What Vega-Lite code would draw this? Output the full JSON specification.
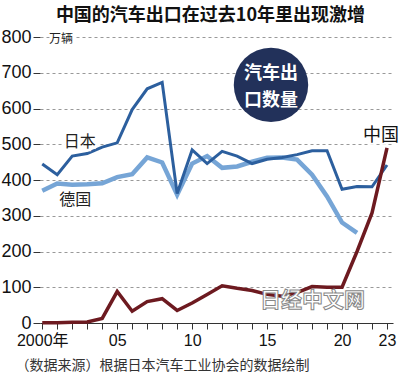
{
  "$schema": "https://vega.github.io/schema/vega-lite/v6.json",
  "width": 353,
  "height": 286,
  "autosize": "none",
  "padding": {"left": 40, "top": 37, "right": 7, "bottom": 52},
  "background": "white",
  "title": {"text": "中国的汽车出口在过去10年里出现激增", "font": "Noto Sans CJK SC", "fontSize": 18, "fontWeight": "bold", "color": "#111", "anchor": "middle", "offset": 3, "dx": -6},
  "config": {"view": {"stroke": null}},
  "datasets": {
    "exports": [
      {"year": 2000, "country": "日本", "value": 445}, {"year": 2001, "country": "日本", "value": 415}, {"year": 2002, "country": "日本", "value": 467}, {"year": 2003, "country": "日本", "value": 474}, {"year": 2004, "country": "日本", "value": 492}, {"year": 2005, "country": "日本", "value": 504}, {"year": 2006, "country": "日本", "value": 597}, {"year": 2007, "country": "日本", "value": 655}, {"year": 2008, "country": "日本", "value": 673}, {"year": 2009, "country": "日本", "value": 362}, {"year": 2010, "country": "日本", "value": 484}, {"year": 2011, "country": "日本", "value": 446}, {"year": 2012, "country": "日本", "value": 480}, {"year": 2013, "country": "日本", "value": 467}, {"year": 2014, "country": "日本", "value": 446}, {"year": 2015, "country": "日本", "value": 458}, {"year": 2016, "country": "日本", "value": 463}, {"year": 2017, "country": "日本", "value": 471}, {"year": 2018, "country": "日本", "value": 482}, {"year": 2019, "country": "日本", "value": 482}, {"year": 2020, "country": "日本", "value": 374}, {"year": 2021, "country": "日本", "value": 382}, {"year": 2022, "country": "日本", "value": 381}, {"year": 2023, "country": "日本", "value": 442},
      {"year": 2000, "country": "德国", "value": 370}, {"year": 2001, "country": "德国", "value": 390}, {"year": 2002, "country": "德国", "value": 387}, {"year": 2003, "country": "德国", "value": 388}, {"year": 2004, "country": "德国", "value": 391}, {"year": 2005, "country": "德国", "value": 408}, {"year": 2006, "country": "德国", "value": 416}, {"year": 2007, "country": "德国", "value": 463}, {"year": 2008, "country": "德国", "value": 449}, {"year": 2009, "country": "德国", "value": 359}, {"year": 2010, "country": "德国", "value": 446}, {"year": 2011, "country": "德国", "value": 467}, {"year": 2012, "country": "德国", "value": 434}, {"year": 2013, "country": "德国", "value": 438}, {"year": 2014, "country": "德国", "value": 451}, {"year": 2015, "country": "德国", "value": 462}, {"year": 2016, "country": "德国", "value": 463}, {"year": 2017, "country": "德国", "value": 457}, {"year": 2018, "country": "德国", "value": 415}, {"year": 2019, "country": "德国", "value": 354}, {"year": 2020, "country": "德国", "value": 281}, {"year": 2021, "country": "德国", "value": 252},
      {"year": 2000, "country": "中国", "value": 1}, {"year": 2001, "country": "中国", "value": 1}, {"year": 2002, "country": "中国", "value": 2}, {"year": 2003, "country": "中国", "value": 3}, {"year": 2004, "country": "中国", "value": 13}, {"year": 2005, "country": "中国", "value": 88}, {"year": 2006, "country": "中国", "value": 33}, {"year": 2007, "country": "中国", "value": 60}, {"year": 2008, "country": "中国", "value": 68}, {"year": 2009, "country": "中国", "value": 35}, {"year": 2010, "country": "中国", "value": 56}, {"year": 2011, "country": "中国", "value": 80}, {"year": 2012, "country": "中国", "value": 104}, {"year": 2013, "country": "中国", "value": 97}, {"year": 2014, "country": "中国", "value": 91}, {"year": 2015, "country": "中国", "value": 80}, {"year": 2016, "country": "中国", "value": 75}, {"year": 2017, "country": "中国", "value": 85}, {"year": 2018, "country": "中国", "value": 102}, {"year": 2019, "country": "中国", "value": 100}, {"year": 2020, "country": "中国", "value": 100}, {"year": 2021, "country": "中国", "value": 200}, {"year": 2022, "country": "中国", "value": 308}, {"year": 2023, "country": "中国", "value": 490}
    ],
    "seriesLabels": [
      {"label": "日本", "year": 2002.5, "value": 507},
      {"label": "德国", "year": 2002.2, "value": 345},
      {"label": "万辆", "year": 2001.25, "value": 795}
    ],
    "chinaLabel": [{"label": "中国", "year": 2022.6, "value": 522}],
    "badge": [{"year": 2015.26, "value": 666}],
    "badgeText": [{"label": "汽车出", "year": 2015.26, "value": 697}, {"label": "口数量", "year": 2015.26, "value": 622}],
    "watermark": [{"label": "日经中文网", "year": 2018.03, "value": 62}]
  },
  "encoding": {
    "x": {"field": "year", "type": "quantitative", "scale": {"domain": [1999.85, 2023.4], "nice": false, "zero": false},
      "axis": {"values": [2000, 2001, 2002, 2003, 2004, 2005, 2006, 2007, 2008, 2009, 2010, 2011, 2012, 2013, 2014, 2015, 2016, 2017, 2018, 2019, 2020, 2021, 2022, 2023],
        "labelExpr": "datum.value == 2000 ? '2000年' : (datum.value == 2005 ? '05' : (datum.value == 2010 ? '10' : (datum.value == 2015 ? '15' : (datum.value == 2020 ? '20' : (datum.value == 2023 ? '23' : '')))))",
        "labelOverlap": false, "labelFont": "Liberation Sans, Noto Sans CJK SC", "labelFontSize": 16, "labelColor": "#111", "labelPadding": 3,
        "tickSize": 6, "tickColor": "#333", "domainColor": "#333", "domainWidth": 1.2, "grid": false,
        "title": "（数据来源）根据日本汽车工业协会的数据绘制", "titleFont": "Noto Sans CJK SC", "titleFontSize": 14, "titleFontWeight": "normal", "titleColor": "#333",
        "titleAnchor": "start", "titleAlign": "left", "titleX": -25, "titleY": 46, "titleBaseline": "alphabetic"}},
    "y": {"field": "value", "type": "quantitative", "scale": {"domain": [0, 800], "nice": false},
      "axis": {"values": [0, 100, 200, 300, 400, 500, 600, 700, 800], "title": null, "domain": false, "tickSize": 7, "tickColor": "#333",
        "labelFont": "Liberation Sans", "labelFontSize": 18, "labelColor": "#111", "labelPadding": 2,
        "grid": true, "gridDash": [3, 3], "gridColor": "#999", "gridWidth": 1}}
  },
  "layer": [
    {
      "data": {"name": "exports"},
      "transform": [{"filter": "datum.country == '德国'"}],
      "mark": {"type": "line", "color": "#76a5d6", "strokeWidth": 4.5}
    },
    {
      "data": {"name": "exports"},
      "transform": [{"filter": "datum.country == '日本'"}],
      "mark": {"type": "line", "color": "#2c5f9e", "strokeWidth": 3}
    },
    {
      "data": {"name": "exports"},
      "transform": [{"filter": "datum.country == '中国'"}],
      "mark": {"type": "line", "color": "#6d1a20", "strokeWidth": 3.5}
    },
    {
      "data": {"name": "seriesLabels"},
      "mark": {"type": "text", "font": "Noto Sans CJK SC", "fill": "white", "stroke": "white", "strokeWidth": 5, "align": "center", "baseline": "middle"},
      "encoding": {
        "text": {"field": "label"},
        "size": {"condition": {"test": "datum.label == '万辆'", "value": 12}, "value": 16}
      }
    },
    {
      "data": {"name": "seriesLabels"},
      "mark": {"type": "text", "font": "Noto Sans CJK SC", "color": "#222", "align": "center", "baseline": "middle"},
      "encoding": {
        "text": {"field": "label"},
        "size": {"condition": {"test": "datum.label == '万辆'", "value": 12}, "value": 16}
      }
    },
    {
      "data": {"name": "chinaLabel"},
      "mark": {"type": "text", "font": "Noto Sans CJK SC", "fontSize": 18, "fill": "white", "stroke": "white", "strokeWidth": 4, "align": "center", "baseline": "middle"},
      "encoding": {"text": {"field": "label"}}
    },
    {
      "data": {"name": "chinaLabel"},
      "mark": {"type": "text", "font": "Noto Sans CJK SC", "fontSize": 18, "color": "#111", "align": "center", "baseline": "middle"},
      "encoding": {"text": {"field": "label"}}
    },
    {
      "data": {"name": "badge"},
      "mark": {"type": "circle", "size": 5540, "color": "#22315a", "opacity": 1}
    },
    {
      "data": {"name": "badgeText"},
      "mark": {"type": "text", "font": "Noto Sans CJK SC", "fontSize": 18, "fontWeight": "bold", "color": "white", "align": "center", "baseline": "middle"},
      "encoding": {"text": {"field": "label"}}
    },
    {
      "data": {"name": "watermark"},
      "mark": {"type": "text", "font": "Noto Sans CJK SC", "fontSize": 21, "fontWeight": "bold", "fill": "white", "stroke": "#888", "strokeWidth": 1, "align": "center", "baseline": "middle"},
      "encoding": {"text": {"field": "label"}}
    }
  ]
}
